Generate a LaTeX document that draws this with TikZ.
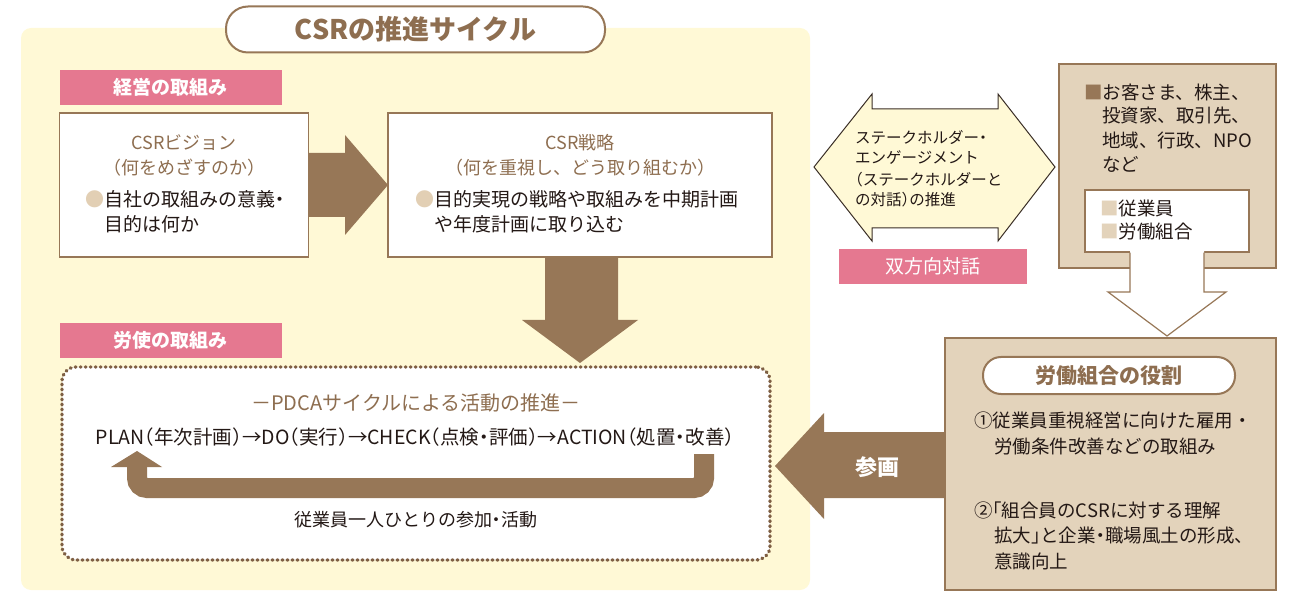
\documentclass[tikz,border=0pt]{standalone}
\usepackage{fontspec}
\setmainfont{Noto Sans CJK JP}
\definecolor{brn}{HTML}{977757}
\definecolor{brntxt}{HTML}{8E6E50}
\definecolor{dotc}{HTML}{7E5F43}
\definecolor{pnk}{HTML}{E57890}
\definecolor{ylw}{HTML}{FFF9D6}
\definecolor{bge}{HTML}{E3D3BB}
\definecolor{bul}{HTML}{E2CFB4}
\definecolor{dtxt}{HTML}{231815}
\definecolor{hexline}{HTML}{3A2E26}
\newcommand{\fz}[1]{\fontsize{#1}{#1}\selectfont}
\newcommand{\jlp}{\makebox[0.5em][r]{（}}
\newcommand{\jrp}{\makebox[0.5em][l]{）}}
\newcommand{\jnd}{\makebox[0.5em][c]{・}}
\newcommand{\jlk}{\makebox[0.5em][r]{「}}
\newcommand{\jrk}{\makebox[0.5em][l]{」}}
\tikzset{
  boxnode/.style={draw=brn, line width=1.2pt, fill=white, inner sep=0pt},
  bgebox/.style={draw=brn, line width=1.2pt, fill=bge, inner sep=0pt},
  lblnode/.style={fill=pnk, text=white, inner sep=0pt, font=\bfseries\fz{19}},
  pillnode/.style={draw=brn, line width=2pt, fill=white, inner sep=0pt, text=brntxt, font=\bfseries\fz{21}},
  hdtxt/.style={inner sep=0pt, text=brntxt, font=\fz{18}},
  bdtxt/.style={inner sep=0pt, anchor=west, text=dtxt, font=\fz{19}},
  rtxt/.style={inner sep=0pt, anchor=west, text=dtxt, font=\fz{18.5}},
  hxtxt/.style={inner sep=0pt, anchor=west, text=dtxt, font=\fz{15.5}},
  arrowfill/.style={fill=brn},
}
\begin{document}
\begin{tikzpicture}[x=1pt,y=-1pt]
\useasboundingbox (0,0) rectangle (1290,593);
% background
\fill[ylw, rounded corners=10pt] (21,28) rectangle (810,590);
% title
\node[pillnode, rounded corners=22pt, minimum width=379pt, minimum height=46pt, font=\bfseries\fz{27}] (title) at (415.5,29.5) {CSRの推進サイクル};
% labels
\node[lblnode, minimum width=222pt, minimum height=35pt] (lb1) at (170.5,87.5) {経営の取組み};
\node[lblnode, minimum width=222pt, minimum height=35pt] (lb2) at (170.5,340.5) {労使の取組み};
% box 1
\node[boxnode, minimum width=249pt, minimum height=144pt] (b1) at (184,185) {};
\node[hdtxt] (b1h1) at (184,143) {CSRビジョン};
\node[hdtxt] (b1h2) at (184,168) {（何をめざすのか）};
\node[bdtxt] (b1l1) at (85,199) {{\color{bul}●}自社の取組みの意義\jnd};
\node[bdtxt] (b1l2) at (104,224) {目的は何か};
% box 2
\node[boxnode, minimum width=384pt, minimum height=144pt] (b2) at (580,185) {};
\node[hdtxt] (b2h1) at (580,143) {CSR戦略};
\node[hdtxt] (b2h2) at (580,168) {（何を重視し、どう取り組むか）};
\node[bdtxt] (b2l1) at (415,199) {{\color{bul}●}目的実現の戦略や取組みを中期計画};
\node[bdtxt] (b2l2) at (434,224) {や年度計画に取り込む};
% arrow box1 -> box2
\fill[arrowfill] (308,153) -- (345,153) -- (345,135) -- (388,185) -- (345,235) -- (345,217) -- (308,217) -- cycle;
% arrow box2 -> pdca
\fill[arrowfill] (545,257) -- (618,257) -- (618,320) -- (638,320) -- (580,363) -- (522,320) -- (545,320) -- cycle;
% dotted box
\node[fill=white, draw=dotc, line width=3.4pt, dash pattern=on 0.8pt off 4.2pt, line cap=round, rounded corners=14pt, minimum width=708pt, minimum height=193pt, inner sep=0pt] (pd) at (416,463.5) {};
\node[hdtxt, font=\fz{20}] (pdh) at (416,403) {－PDCAサイクルによる活動の推進－};
\node[inner sep=0pt, text=dtxt, font=\fz{19.5}] (plan) at (415,437) {PLAN\jlp 年次計画\jrp →DO\jlp 実行\jrp →CHECK\jlp 点検\jnd 評価\jrp →ACTION\jlp 処置\jnd 改善\jrp};
\draw[brn, line width=20pt, rounded corners=10pt] (704,454) -- (704,488) -- (137,488) -- (137,466);
\fill[arrowfill] (111,467) -- (137,451) -- (162,467) -- cycle;
\node[inner sep=0pt, text=dtxt, font=\fz{18}] (emp) at (416,520) {従業員一人ひとりの参加\jnd 活動};
% hexagon double arrow
\filldraw[fill=ylw, draw=hexline, line width=1pt] (814,167) -- (872,94) -- (872,109) -- (998,109) -- (998,94) -- (1055,167) -- (998,241) -- (998,228) -- (872,228) -- (872,241) -- cycle;
\node[hxtxt] (hx1) at (855,137) {ステークホルダー\jnd};
\node[hxtxt] (hx2) at (855,158) {エンゲージメント};
\node[hxtxt] (hx3) at (855,180) {\jlp ステークホルダーと};
\node[hxtxt] (hx4) at (855,200) {の対話\jrp の推進};
\node[lblnode, font=\fz{19}, minimum width=188pt, minimum height=35pt] (lb3) at (933,266.5) {双方向対話};
% stakeholder box
\node[bgebox, minimum width=217pt, minimum height=204pt] (sh) at (1167.5,166) {};
\node[rtxt] (sh1) at (1084,92) {{\color{brn}■}お客さま、株主、};
\node[rtxt] (sh2) at (1102,116) {投資家、取引先、};
\node[rtxt] (sh3) at (1102,140) {地域、行政、NPO};
\node[rtxt] (sh4) at (1102,164) {など};
\node[boxnode, minimum width=164pt, minimum height=62pt] (inb) at (1167,221) {};
\node[rtxt] (in1) at (1100,208) {{\color{bge}■}従業員};
\node[rtxt] (in2) at (1100,232) {{\color{bge}■}労働組合};
% hollow arrow
\fill[white] (1130,250) -- (1130,292) -- (1108,292) -- (1167,336) -- (1226,292) -- (1204,292) -- (1204,250) -- cycle;
\draw[brn, line width=1.2pt] (1130,252.6) -- (1130,292) -- (1108,292) -- (1167,336) -- (1226,292) -- (1204,292) -- (1204,252.6);
% role box
\node[bgebox, minimum width=331pt, minimum height=252pt] (role) at (1110.5,464) {};
\node[pillnode, rounded corners=18pt, minimum width=252pt, minimum height=37pt] (rolet) at (1109,375.5) {労働組合の役割};
\node[rtxt] (r1) at (974,420) {①従業員重視経営に向けた雇用・};
\node[rtxt] (r2) at (994,446) {労働条件改善などの取組み};
\node[rtxt] (r3) at (974,510) {②\jlk 組合員のCSRに対する理解};
\node[rtxt] (r4) at (994,536) {拡大\jrk と企業\jnd 職場風土の形成、};
\node[rtxt] (r5) at (994,561) {意識向上};
% participation arrow
\fill[arrowfill] (945,432) -- (824,432) -- (824,413) -- (775,466) -- (824,519) -- (824,498) -- (945,498) -- cycle;
\node[inner sep=0pt, text=white, font=\bfseries\fz{22}] (sank) at (877,467) {参画};
\end{tikzpicture}
\end{document}
